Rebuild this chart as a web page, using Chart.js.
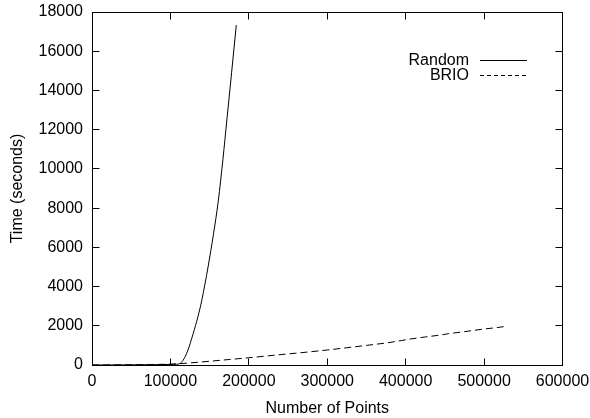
<!DOCTYPE html>
<html lang="en">
<head>
    <meta charset="UTF-8">
    <title>Time vs Number of Points</title>
    <script src="https://cdn.jsdelivr.net/npm/chart.js@4/dist/chart.umd.min.js"></script>
    <style>
        html, body { margin: 0; padding: 0; background: #fff; }
        #wrap { width: 590px; height: 418px; }
    </style>
</head>
<body>
    <div id="wrap"><canvas id="myChart" width="590" height="418"></canvas></div>

    <script>
        // Values
        var randomX = [0, 25000, 50000, 75000, 100000, 108000, 112000, 116000, 122000, 129000, 135000, 140000, 148000, 155000, 161000, 167000, 172000, 178000, 184000];
        var randomY = [0, 3, 8, 15, 28, 38, 70, 230, 720, 1600, 2450, 3300, 5000, 6700, 8350, 10500, 12500, 14900, 17330];

        var brioX = [0, 20000, 50000, 80000, 100000, 120000, 150000, 175000, 200000, 225000, 250000, 275000, 300000, 325000, 350000, 375000, 395000, 405000, 425000, 445000, 455000, 475000, 500000, 515000, 525000];
        var brioY = [0, 3, 10, 25, 45, 90, 190, 280, 370, 470, 565, 660, 765, 880, 1000, 1120, 1250, 1320, 1430, 1530, 1600, 1700, 1837, 1900, 1955];

        var xTicks = [0, 100000, 200000, 300000, 400000, 500000, 600000];
        var yTicks = [0, 2000, 4000, 6000, 8000, 10000, 12000, 14000, 16000, 18000];

        var FONT = 'Liberation Sans, Arial, Helvetica, sans-serif';

        function toPoints(xs, ys) {
            return xs.map(function (x, i) { return { x: x, y: ys[i] }; });
        }

        // Box round the plot with short inward ticks on all four sides
        var framePlugin = {
            id: 'frame',
            afterDatasetsDraw: function (chart) {
                var ctx = chart.ctx, a = chart.chartArea;
                var xs = chart.scales.x, ys = chart.scales.y;
                var L = Math.floor(a.left) + 0.5, R = Math.floor(a.right) + 0.5;
                var T = Math.floor(a.top) + 0.5, B = Math.floor(a.bottom) + 0.5;
                var len = 7;
                ctx.save();
                ctx.strokeStyle = '#000';
                ctx.lineWidth = 1;
                ctx.beginPath();
                xs.ticks.forEach(function (t) {
                    var px = Math.floor(xs.getPixelForValue(t.value)) + 0.5;
                    ctx.moveTo(px, B); ctx.lineTo(px, B - len);
                    ctx.moveTo(px, T); ctx.lineTo(px, T + len);
                });
                ys.ticks.forEach(function (t) {
                    var py = Math.floor(ys.getPixelForValue(t.value)) + 0.5;
                    ctx.moveTo(L, py); ctx.lineTo(L + len, py);
                    ctx.moveTo(R, py); ctx.lineTo(R - len, py);
                });
                ctx.stroke();
                ctx.strokeRect(L, T, R - L, B - T);
                ctx.restore();
            }
        };

        // gnuplot style key: label first, then a line sample
        var keyPlugin = {
            id: 'key',
            afterDraw: function (chart) {
                var ctx = chart.ctx;
                ctx.save();
                ctx.font = '16px ' + FONT;
                ctx.fillStyle = '#000';
                ctx.textAlign = 'right';
                ctx.textBaseline = 'middle';
                chart.data.datasets.forEach(function (ds, i) {
                    var y = 60.5 + i * 15;
                    ctx.fillText(ds.label, 469, y);
                    ctx.strokeStyle = '#000';
                    ctx.lineWidth = 1;
                    ctx.setLineDash(ds.borderDash.length ? [4, 3] : []);
                    ctx.beginPath();
                    ctx.moveTo(480, y);
                    ctx.lineTo(527, y);
                    ctx.stroke();
                });
                ctx.restore();
            }
        };

        var myChart = new Chart("myChart", {
            type: "scatter",
            data: {
                datasets: [{
                    label: "Random",
                    data: toPoints(randomX, randomY),
                    showLine: true,
                    borderColor: "#000",
                    borderWidth: 1,
                    borderDash: [],
                    pointRadius: 0,
                    cubicInterpolationMode: 'monotone'
                }, {
                    label: "BRIO",
                    data: toPoints(brioX, brioY),
                    showLine: true,
                    borderColor: "#000",
                    borderWidth: 1,
                    borderDash: [7, 4],
                    pointRadius: 0
                }]
            },
            options: {
                responsive: false,
                animation: false,
                layout: { padding: 0 },
                plugins: {
                    legend: { display: false },
                    tooltip: { enabled: false }
                },
                scales: {
                    x: {
                        type: 'linear',
                        min: 0,
                        max: 600000,
                        afterBuildTicks: function (s) { s.ticks = xTicks.map(function (v) { return { value: v }; }); },
                        afterFit: function (s) { s.height = 53; s.paddingLeft = 0; s.paddingRight = 27.5; },
                        grid: { display: false, drawTicks: false },
                        border: { display: false },
                        ticks: {
                            color: '#000',
                            padding: 7,
                            maxRotation: 0,
                            font: { family: FONT, size: 16 },
                            callback: function (v) { return String(v); }
                        },
                        title: {
                            display: true,
                            text: 'Number of Points',
                            color: '#000',
                            font: { family: FONT, size: 16 },
                            padding: { top: 0, bottom: 0 }
                        }
                    },
                    y: {
                        type: 'linear',
                        min: 0,
                        max: 18000,
                        afterBuildTicks: function (s) { s.ticks = yTicks.map(function (v) { return { value: v }; }); },
                        afterFit: function (s) { s.width = 92; s.paddingTop = 12; s.paddingBottom = 0; },
                        grid: { display: false, drawTicks: false },
                        border: { display: false },
                        ticks: {
                            color: '#000',
                            padding: 9,
                            font: { family: FONT, size: 16 },
                            callback: function (v) { return String(v); }
                        },
                        title: {
                            display: true,
                            text: 'Time (seconds)',
                            color: '#000',
                            font: { family: FONT, size: 16 },
                            padding: { top: 8, bottom: 0 }
                        }
                    }
                }
            },
            plugins: [framePlugin, keyPlugin]
        });
    </script>
</body>
</html>
